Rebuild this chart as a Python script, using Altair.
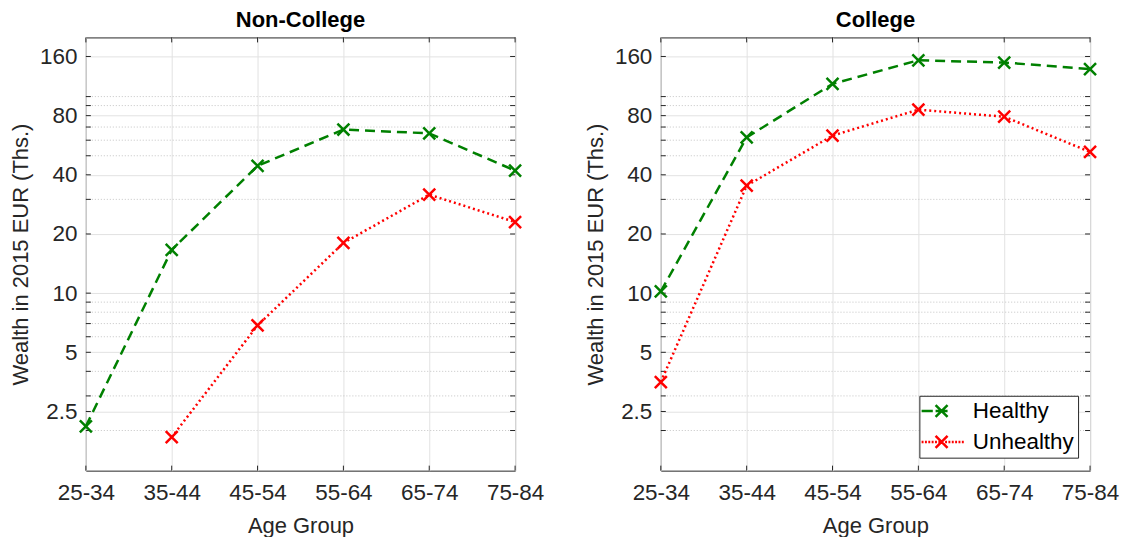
import altair as alt
import pandas as pd

ages = ["25-34", "35-44", "45-54", "55-64", "65-74", "75-84"]
nc_healthy = [2.1, 16.6, 44.4, 68.0, 65.0, 42.0]
nc_unhealthy = [None, 1.85, 6.85, 18.0, 31.7, 23.0]
c_healthy = [10.2, 62.0, 116.0, 153.0, 149.0, 138.0]
c_unhealthy = [3.53, 35.2, 63.3, 85.8, 79.0, 52.3]
major_ticks = [2.5, 5, 10, 20, 40, 80, 160]
minor_ticks = [2, 3, 4, 6, 7, 8, 9, 30, 50, 60, 70, 90, 100]
series = ["Healthy", "Unhealthy"]
colors = ["#008000", "#ff0000"]

FONT = "Liberation Sans"
W, H = 430, 434
XPATH = "M-1,-1L1,1M-1,1L1,-1"
XPART = "M-0.75,-0.75L0.75,0.75M-0.75,0.75L0.75,-0.75"
LEG_HEALTHY = "M-2.5,0H-1.1M-0.75,0H0.75" + XPART
_dots = []
_p = -2.5
while _p < 2.7:
    _dots.append(f"M{_p:.2f},0H{_p + 0.24:.2f}")
    _p += 0.42
LEG_UNHEALTHY = "".join(_dots) + XPART
TXT = "#262626"


def panel(title, healthy, unhealthy, show_legend):
    df = pd.DataFrame({
        "age": ages * 2,
        "value": healthy + unhealthy,
        "health": ["Healthy"] * len(ages) + ["Unhealthy"] * len(ages),
    }).dropna()
    ytk = pd.DataFrame({"value": major_ticks + minor_ticks})
    ymin = pd.DataFrame({"value": minor_ticks})
    xtk = pd.DataFrame({"age": ages})

    X = alt.X("age:O", sort=ages,
              scale=alt.Scale(type="point", domain=ages, padding=0),
              axis=alt.Axis(title="Age Group", labelAngle=0, grid=True, ticks=False,
                            domain=False, labelPadding=11, titlePadding=11))
    Y = alt.Y("value:Q",
              scale=alt.Scale(type="log", domain=[1.25, 200], nice=False),
              axis=alt.Axis(title="Wealth in 2015 EUR (Ths.)", values=major_ticks, format="~g",
                            grid=True, ticks=False, domain=False, labelPadding=9,
                            titlePadding=7))

    if show_legend:
        legend = alt.Legend(
            title=None, orient="none", legendX=259, legendY=359,
            symbolSize=256, symbolStrokeWidth=2.5, symbolOpacity=1,
            symbolOffset=7, labelOffset=20,
            labelFontSize=22.5, labelFont=FONT, labelColor="black",
            strokeColor=TXT, fillColor="white", padding=4,
            rowPadding=8, cornerRadius=0, labelLimit=300,
        )
    else:
        legend = None
    color = alt.Color("health:N", scale=alt.Scale(domain=series, range=colors), legend=legend)
    shape = alt.Shape("health:N", scale=alt.Scale(domain=series, range=[LEG_HEALTHY, LEG_UNHEALTHY]),
                      legend=legend)

    grid_minor = alt.Chart(ymin).mark_rule(color="#c4c4c4", strokeDash=[1, 2], strokeWidth=1).encode(y=Y)
    tick_l = alt.Chart(ytk).mark_rule(color=TXT).encode(y=Y, x=alt.value(0), x2=alt.value(5))
    tick_r = alt.Chart(ytk).mark_rule(color=TXT).encode(y=Y, x=alt.value(W), x2=alt.value(W - 5))
    tick_b = alt.Chart(xtk).mark_rule(color=TXT).encode(x=X, y=alt.value(H), y2=alt.value(H - 5))
    tick_t = alt.Chart(xtk).mark_rule(color=TXT).encode(x=X, y=alt.value(0), y2=alt.value(5))

    line_h = alt.Chart(df[df["health"] == "Healthy"]).mark_line(
        strokeWidth=2.5, strokeDash=[10, 6]).encode(x=X, y=Y, color=color)
    line_u = alt.Chart(df[df["health"] == "Unhealthy"]).mark_line(
        strokeWidth=2.5, strokeDash=[2, 3]).encode(x=X, y=Y, color=color)
    pts = alt.Chart(df).mark_point(shape=XPATH, size=144, strokeWidth=2.5, filled=False,
                                   opacity=1).encode(x=X, y=Y, color=color)
    leg = alt.Chart(df).transform_filter("false").mark_point(
        filled=False, strokeWidth=2.5, opacity=1).encode(x=X, y=Y, color=color, shape=shape)

    return alt.layer(grid_minor, tick_l, tick_r, tick_b, tick_t, line_h, line_u, pts, leg).properties(
        width=W, height=H,
        title=alt.TitleParams(title, fontSize=22, fontWeight="bold", font=FONT,
                              color="black", offset=5),
    )


left = panel("Non-College", nc_healthy, nc_unhealthy, False)
right = panel("College", c_healthy, c_unhealthy, True)

chart = alt.hconcat(left, right, spacing=146, bounds="flush").resolve_scale(
    color="independent", shape="independent"
).resolve_legend(color="independent", shape="independent").properties(
    padding={"left": 0, "top": 0, "right": 0, "bottom": 0}
).configure_view(
    stroke=TXT, strokeWidth=1
).configure_axis(
    labelFont=FONT, titleFont=FONT, labelFontSize=22.5, titleFontSize=22,
    labelColor=TXT, titleColor=TXT, titleFontWeight="normal",
    gridColor="#e2e2e2", gridWidth=1,
)

chart.save("out.html", embed_options={"renderer": "svg", "actions": False})
